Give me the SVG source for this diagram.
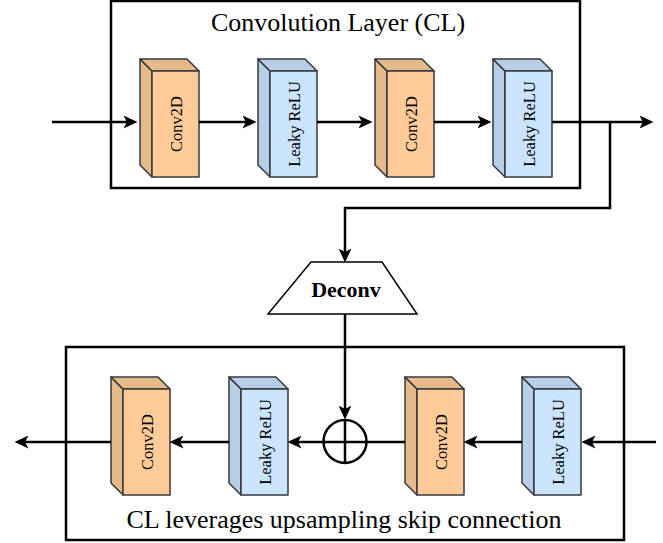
<svg xmlns="http://www.w3.org/2000/svg" xmlns:xlink="http://www.w3.org/1999/xlink" width="663" height="543" viewBox="0 0 663 543">
  <style>
    .frame { fill: #ffffff; stroke: #000000; stroke-width: 2.5; }
    .wire { fill: none; stroke: #000000; stroke-width: 2.5; }
    .arrow { marker-end: url(#head); }
    .cube-edge { stroke: #36393d; stroke-width: 1.5; stroke-linejoin: round; }
    .title { font-family: "Liberation Serif", "Times New Roman", serif; font-size: 26px; fill: #000000; text-anchor: middle; }
    .vlabel { font-family: "Liberation Serif", "Times New Roman", serif; font-size: 16.5px; fill: #000000; text-anchor: middle; dominant-baseline: central; }
    .bold { font-family: "Liberation Serif", "Times New Roman", serif; font-size: 22px; font-weight: bold; fill: #000000; text-anchor: middle; }
  </style>
  <defs>
    <marker id="head" markerUnits="userSpaceOnUse" markerWidth="14" markerHeight="13" refX="10.5" refY="6.5" orient="auto">
      <path d="M0,0 L14,6.5 L0,13 L3.5,6.5 Z" fill="#000000"/>
    </marker>
    <!-- 3D block, front face top-left at the origin -->
    <g id="cube-conv">
      <polygon class="cube-edge" points="-12,-12 0,0 0,106 -12,94" fill="#e6b98b"/>
      <polygon class="cube-edge" points="-12,-12 35,-12 47,0 0,0" fill="#e6b98b"/>
      <rect class="cube-edge" x="0" y="0" width="47" height="106" fill="#ffcc99"/>
    </g>
    <g id="cube-relu">
      <polygon class="cube-edge" points="-12,-12 0,0 0,106 -12,94" fill="#b8cee6"/>
      <polygon class="cube-edge" points="-12,-12 35,-12 47,0 0,0" fill="#b8cee6"/>
      <rect class="cube-edge" x="0" y="0" width="47" height="106" fill="#cce5ff"/>
    </g>
  </defs>

  <!-- containers -->
  <g id="cl-top">
    <rect class="frame" x="111" y="1" width="469" height="187"/>
    <text class="title" x="338" y="31">Convolution Layer (CL)</text>
  </g>
  <g id="cl-bottom">
    <rect class="frame" x="66" y="347" width="558" height="193"/>
    <text class="title" x="344" y="528">CL leverages upsampling skip connection</text>
  </g>

  <!-- top row -->
  <g id="top-conv1" transform="translate(152,71)">
    <use xlink:href="#cube-conv"/>
    <text class="vlabel" transform="translate(24,53) rotate(-90)">Conv2D</text>
  </g>
  <g id="top-relu1" transform="translate(270,71)">
    <use xlink:href="#cube-relu"/>
    <text class="vlabel" transform="translate(24,53) rotate(-90)">Leaky ReLU</text>
  </g>
  <g id="top-conv2" transform="translate(387,71)">
    <use xlink:href="#cube-conv"/>
    <text class="vlabel" transform="translate(24,53) rotate(-90)">Conv2D</text>
  </g>
  <g id="top-relu2" transform="translate(505,71)">
    <use xlink:href="#cube-relu"/>
    <text class="vlabel" transform="translate(24,53) rotate(-90)">Leaky ReLU</text>
  </g>

  <!-- deconvolution -->
  <g id="deconv">
    <polygon points="311,262 382,262 417,314 268,314" fill="#ffffff" stroke="#000000" stroke-width="1.5"/>
    <text class="bold" x="346" y="297">Deconv</text>
  </g>

  <!-- bottom row -->
  <g id="bot-conv1" transform="translate(123,389)">
    <use xlink:href="#cube-conv"/>
    <text class="vlabel" transform="translate(24,53) rotate(-90)">Conv2D</text>
  </g>
  <g id="bot-relu1" transform="translate(241,389)">
    <use xlink:href="#cube-relu"/>
    <text class="vlabel" transform="translate(24,53) rotate(-90)">Leaky ReLU</text>
  </g>
  <g id="bot-conv2" transform="translate(417,389)">
    <use xlink:href="#cube-conv"/>
    <text class="vlabel" transform="translate(24,53) rotate(-90)">Conv2D</text>
  </g>
  <g id="bot-relu2" transform="translate(534,389)">
    <use xlink:href="#cube-relu"/>
    <text class="vlabel" transform="translate(24,53) rotate(-90)">Leaky ReLU</text>
  </g>

  <!-- element-wise sum -->
  <g id="sum">
    <circle cx="345" cy="441.5" r="21.5" fill="#ffffff" stroke="#000000" stroke-width="2.5"/>
    <line x1="345" y1="420" x2="345" y2="463" stroke="#000000" stroke-width="2.5"/>
    <line x1="323.5" y1="442" x2="366.5" y2="442" stroke="#000000" stroke-width="2.5"/>
  </g>

  <!-- connectors -->
  <g id="connectors">
    <path class="wire arrow" d="M52,122 H134"/>
    <path class="wire arrow" d="M199,122 H253"/>
    <path class="wire arrow" d="M317,122 H369"/>
    <path class="wire arrow" d="M434,122 H488"/>
    <path class="wire arrow" d="M552,122 H650"/>
    <path class="wire arrow" d="M610,122 V208 H345 V259"/>
    <path class="wire arrow" d="M345,314 V416"/>
    <path class="wire arrow" d="M656,442 H585"/>
    <path class="wire arrow" d="M522,442 H467"/>
    <path class="wire" d="M405,442 H367"/>
    <path class="wire arrow" d="M323,442 H291"/>
    <path class="wire arrow" d="M229,442 H173"/>
    <path class="wire arrow" d="M111,442 H18"/>
  </g>
</svg>
